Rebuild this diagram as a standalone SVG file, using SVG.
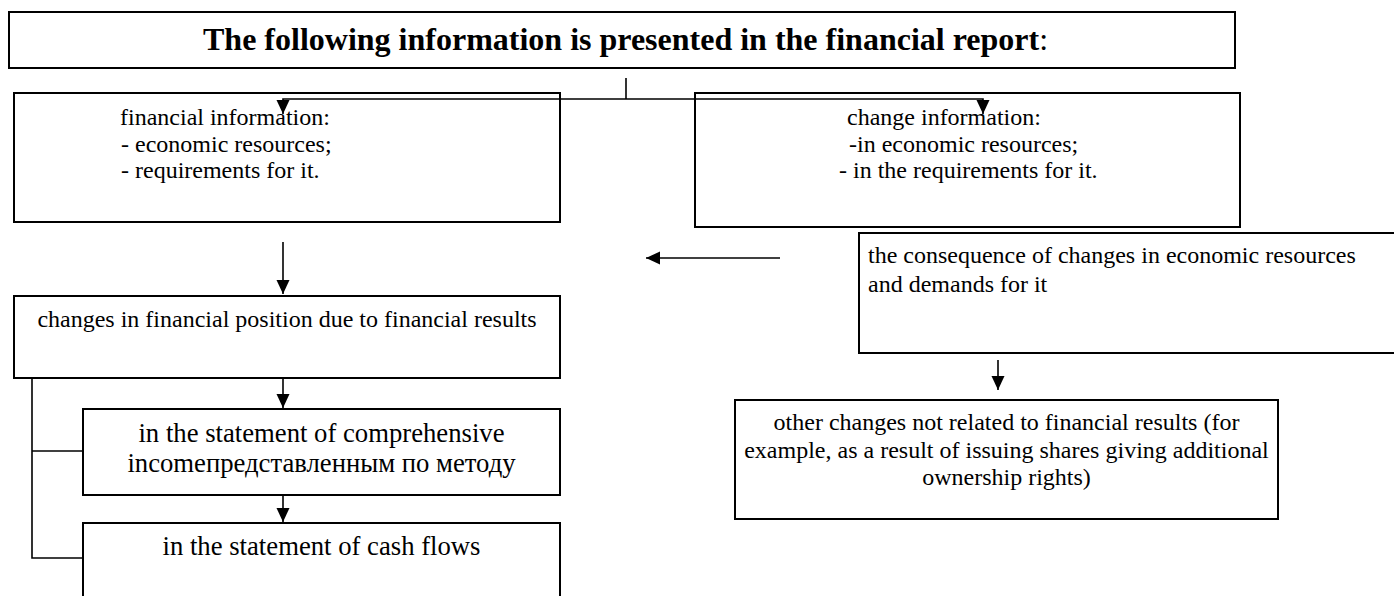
<svg xmlns="http://www.w3.org/2000/svg" width="1394" height="596" viewBox="0 0 1394 596">
<defs>
<style>
.box{fill:#fff;stroke:#000;stroke-width:2}
.ln{fill:none;stroke:#000;stroke-width:1.6}
.t{font-family:"Liberation Serif","Times New Roman",serif;fill:#000;font-size:24px}
.tl{font-family:"Liberation Serif","Times New Roman",serif;fill:#000;font-size:26.7px}
.c{text-anchor:middle}
</style>
<marker id="ah" markerUnits="userSpaceOnUse" markerWidth="15" markerHeight="14" refX="14" refY="6.5" orient="auto">
<path d="M0,0 L14,6.5 L0,13 z" fill="#000"/>
</marker>
</defs>
<rect width="1394" height="596" fill="#fff"/>
<g id="title">
<rect class="box" x="9" y="12" width="1226" height="56"/>
<text x="203" y="50" font-family="Liberation Serif,'Times New Roman',serif" font-size="32" font-weight="bold">The following information is presented in the financial report<tspan font-weight="normal">:</tspan></text>
</g>
<g id="fin-info">
<rect class="box" x="14" y="93" width="546" height="129"/>
<text class="t" x="120" y="125">financial information:</text>
<text class="t" x="121" y="152">- economic resources;</text>
<text class="t" x="121" y="178">- requirements for it.</text>
</g>
<g id="change-info">
<rect class="box" x="695" y="93" width="545" height="134"/>
<text class="t" x="847" y="125">change information:</text>
<text class="t" x="849" y="152">-in economic resources;</text>
<text class="t" x="839" y="178">- in the requirements for it.</text>
</g>
<g id="consequence">
<rect class="box" x="859" y="233" width="545" height="120"/>
<text class="t" x="868" y="263">the consequence of changes in economic resources</text>
<text class="t" x="868" y="292">and demands for it</text>
</g>
<g id="fin-position">
<rect class="box" x="14" y="296" width="546" height="82"/>
<text class="t c" x="287" y="327">changes in financial position due to financial results</text>
</g>
<g id="comprehensive">
<rect class="box" x="83" y="409" width="477" height="86"/>
<text class="tl c" x="321.5" y="442">in the statement of comprehensive</text>
<text class="tl c" x="321.5" y="472">incomeпредставленным по методу</text>
</g>
<g id="cash-flows">
<rect class="box" x="83" y="523" width="477" height="80"/>
<text class="tl c" x="321.5" y="555">in the statement of cash flows</text>
</g>
<g id="other-changes">
<rect class="box" x="735" y="400" width="543" height="119"/>
<text class="t c" x="1006.5" y="430">other changes not related to financial results (for</text>
<text class="t c" x="1006.5" y="458">example, as a result of issuing shares giving additional</text>
<text class="t c" x="1006.5" y="485">ownership rights)</text>
</g>
<g id="connectors">
<path class="ln" d="M626,78 V99"/>
<path class="ln" d="M626,99 H283 V114" marker-end="url(#ah)"/>
<path class="ln" d="M626,99 H983 V114" marker-end="url(#ah)"/>
<path class="ln" d="M283,242 V294" marker-end="url(#ah)"/>
<path class="ln" d="M780,258 H646" marker-end="url(#ah)"/>
<path class="ln" d="M998,360 V390" marker-end="url(#ah)"/>
<path class="ln" d="M283,378 V408" marker-end="url(#ah)"/>
<path class="ln" d="M283,495 V522" marker-end="url(#ah)"/>
<path class="ln" d="M32,378 V558 H83"/>
<path class="ln" d="M32,451 H83"/>
</g>
</svg>
